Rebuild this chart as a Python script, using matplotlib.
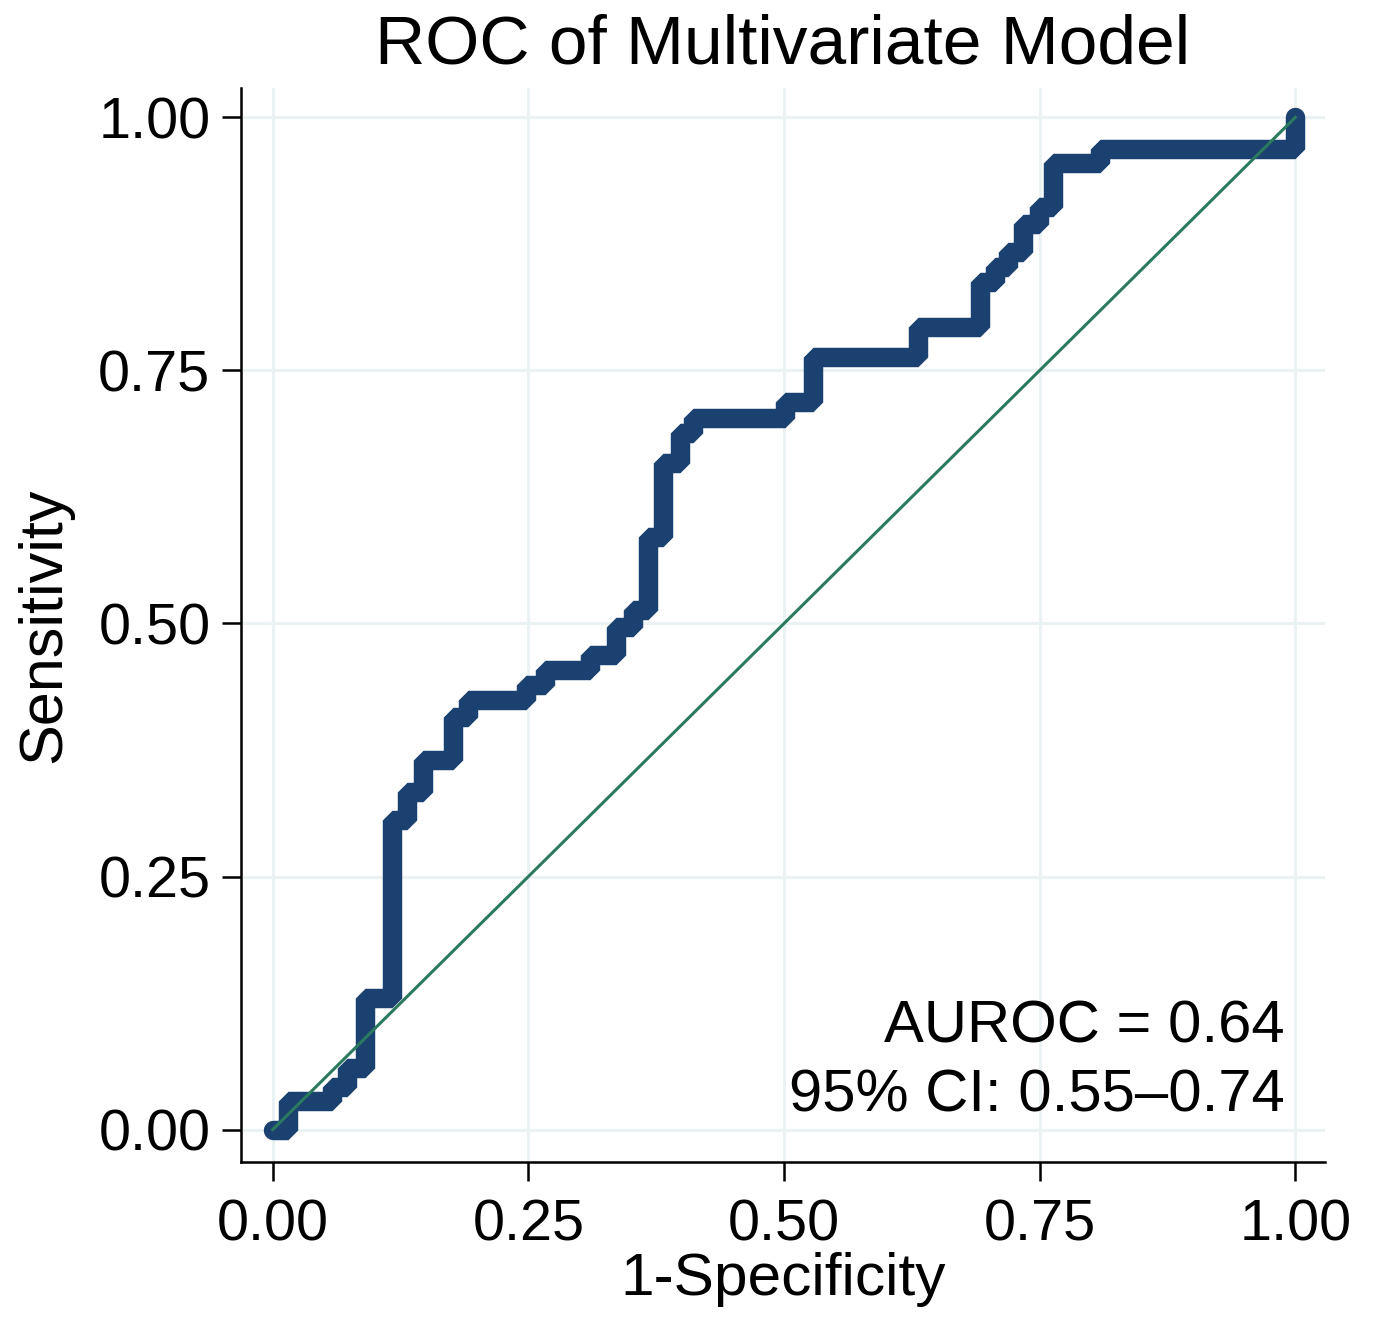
import numpy as np
import matplotlib
matplotlib.use("Agg")
import matplotlib.pyplot as plt

plt.rcParams['font.family'] = ['Liberation Sans', 'DejaVu Sans']

# ROC step points (1-specificity, sensitivity)
fpr = [0, 0.015, 0.058, 0.073, 0.090, 0.117, 0.131, 0.147, 0.176, 0.191,
       0.248, 0.266, 0.310, 0.336, 0.352, 0.367, 0.382, 0.398, 0.411, 0.501,
       0.528, 0.631, 0.692, 0.706, 0.719, 0.734, 0.749, 0.763, 0.809, 1.0]
tpr = [0, 0.028, 0.042, 0.061, 0.130, 0.306, 0.334, 0.365, 0.408, 0.424,
       0.439, 0.454, 0.469, 0.497, 0.513, 0.585, 0.659, 0.688, 0.703, 0.719,
       0.763, 0.793, 0.837, 0.852, 0.867, 0.895, 0.911, 0.955, 0.969, 1.0]
ref_line = [0, 1]
ticks = [0, 0.25, 0.5, 0.75, 1.0]
tick_labels = ["0.00", "0.25", "0.50", "0.75", "1.00"]
auroc_text = "AUROC = 0.64"
ci_text = "95% CI: 0.55\u20130.74"

fig = plt.figure(figsize=(13.73, 13.17), dpi=100)
ax = fig.add_axes([241/1373, 1 - 1162/1317, (1325-241)/1373, (1162-88)/1317])

ax.plot(fpr, tpr, drawstyle='steps-post', color='#1b4170', lw=14,
        solid_joinstyle='bevel', solid_capstyle='round', zorder=3)
ax.plot(ref_line, ref_line, color='#2b7a5e', lw=2.2, zorder=4)

ax.set_xlim(-0.031, 1.029)
ax.set_ylim(-0.032, 1.029)
ax.set_xticks(ticks)
ax.set_xticklabels(tick_labels)
ax.set_yticks(ticks)
ax.set_yticklabels(tick_labels)
ax.grid(True, color='#eaf2f3', lw=2.2, zorder=0)
ax.set_axisbelow(True)

for s in ['top', 'right']:
    ax.spines[s].set_visible(False)
for s in ['left', 'bottom']:
    ax.spines[s].set_linewidth(1.8)
    ax.spines[s].set_color('black')

ax.tick_params(axis='both', length=14, width=1.8, labelsize=41.5, color='black')
ax.tick_params(axis='y', pad=8)
ax.tick_params(axis='x', pad=12)

ax.set_xlabel("1-Specificity", fontsize=43.5, labelpad=0)
ax.set_ylabel("Sensitivity", fontsize=44, labelpad=18)
ax.set_title("ROC of Multivariate Model", fontsize=50, pad=18)

ax.text(0.990, 0.086, auroc_text, ha='right', va='baseline', fontsize=43)
ax.text(0.990, 0.018, ci_text, ha='right', va='baseline', fontsize=43)

plt.savefig("out.png", dpi=100)
